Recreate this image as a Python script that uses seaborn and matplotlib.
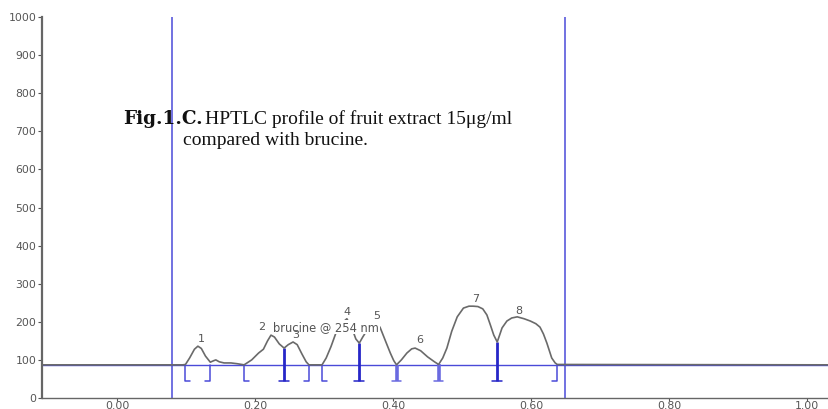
import matplotlib
matplotlib.use("Agg")
import matplotlib.pyplot as plt
import seaborn as sns
import pandas as pd

# Densitogram trace: Rf position vs. detector response (AU)
rf = [-0.11, 0.080, 0.095, 0.099, 0.105, 0.112, 0.117, 0.122, 0.128, 0.135,
      0.140, 0.143, 0.148, 0.155, 0.165, 0.174, 0.184, 0.195, 0.205, 0.212,
      0.218, 0.223, 0.228, 0.235, 0.242, 0.248, 0.255, 0.261, 0.268, 0.274,
      0.278, 0.297, 0.303, 0.310, 0.317, 0.325, 0.333, 0.340, 0.346, 0.351,
      0.356, 0.363, 0.370, 0.377, 0.381, 0.390, 0.396, 0.401, 0.405, 0.412,
      0.420, 0.427, 0.432, 0.440, 0.450, 0.460, 0.466, 0.472, 0.478, 0.485,
      0.493, 0.502, 0.510, 0.516, 0.523, 0.530, 0.536, 0.541, 0.546, 0.551,
      0.555, 0.558, 0.565, 0.572, 0.580, 0.590, 0.599, 0.607, 0.613, 0.618,
      0.623, 0.630, 0.635, 0.638, 1.04]
au = [87, 87, 87, 88, 105, 128, 136, 130, 110, 94,
      98, 100, 95, 92, 92, 90, 87, 100, 118, 128,
      150, 165, 160, 142, 131, 140, 147, 140, 115, 95,
      87, 87, 105, 135, 170, 195, 208, 185, 155, 144,
      160, 180, 190, 192, 186, 145, 118, 98, 87, 100,
      118, 129, 131, 124, 108, 95, 88, 105, 131, 175,
      213, 236, 241, 241, 240, 234, 218, 192, 165, 147,
      168, 184, 202, 210, 213, 208, 202, 195, 186, 168,
      144, 105, 92, 88, 87]

baseline = 87
track_start, track_end = 0.080, 0.649

# Integration limits
peak_starts = [0.099, 0.184, 0.297]
peak_ends = [0.135, 0.278, 0.638]
shared_limits = [0.242, 0.351, 0.405, 0.466, 0.551]
shared_tops = [131, 144, 87, 88, 147]
marker_bottom = 45

# Peak numbering
peak_ids = ["1", "3", "4", "5", "6", "7", "8"]
peak_label_x = [0.122, 0.259, 0.333, 0.376, 0.438, 0.519, 0.583]
peak_label_y = [155, 165, 226, 214, 152, 260, 228]

x_ticks = [0.0, 0.2, 0.4, 0.6, 0.8, 1.0]
x_ticklabels = ["0.00", "0.20", "0.40", "0.60", "0.80", "1.00"]
y_ticks = list(range(0, 1001, 100))

sns.set_style("ticks")
plt.rcParams["font.family"] = ["DejaVu Sans"]

W, H = 829, 409
fig = plt.figure(figsize=(W / 100, H / 100), dpi=100)
ax = fig.add_axes([42 / W, 11 / H, (W - 42) / W, 381 / H])

blue = "#4a4ad8"
dark_blue = "#2626c8"
trace_col = "#6a6a6a"

# Baseline and track boundaries
ax.axhline(baseline, color=blue, lw=1.0, zorder=1)
ax.axvline(track_start, color=blue, lw=1.1, zorder=1)
ax.axvline(track_end, color=blue, lw=1.1, zorder=1)

df = pd.DataFrame({"Rf": rf, "AU": au})
sns.lineplot(data=df, x="Rf", y="AU", ax=ax, color=trace_col, lw=1.2,
             sort=False, estimator=None, zorder=3)

foot = 0.007
for x in peak_starts:
    ax.plot([x, x, x + foot], [baseline, marker_bottom, marker_bottom],
            color=blue, lw=1.1, zorder=2)
for x in peak_ends:
    ax.plot([x, x, x - foot], [baseline, marker_bottom, marker_bottom],
            color=blue, lw=1.1, zorder=2)
for x, top in zip(shared_limits, shared_tops):
    lw = 2.0 if top > baseline + 5 else 2.6
    col = dark_blue if top > baseline + 5 else "#6a6ae0"
    ax.plot([x, x], [top, marker_bottom], color=col, lw=lw, zorder=2,
            solid_capstyle="butt")
    ax.plot([x - foot, x + foot], [marker_bottom, marker_bottom],
            color=col, lw=1.1, zorder=2)

for t, x, y in zip(peak_ids, peak_label_x, peak_label_y):
    ax.text(x, y, t, ha="center", va="center", fontsize=8, color="#555555",
            zorder=5)
ax.text(0.210, 186, "2", ha="center", va="center", fontsize=8,
        color="#555555", zorder=5)
ax.text(0.226, 186, "brucine @ 254 nm", ha="left", va="center", fontsize=8.3,
        color="#555555", zorder=4,
        bbox=dict(facecolor="white", edgecolor="none", pad=0.6))

ax.set_xlim(-0.109, 1.032)
ax.set_ylim(0, 1000)
ax.set_xticks(x_ticks)
ax.set_xticklabels(x_ticklabels)
ax.set_yticks(y_ticks)
ax.set_xlabel("")
ax.set_ylabel("")
ax.tick_params(axis="both", labelsize=7.8, colors="#555555", length=3,
               width=0.8, pad=1)
ax.tick_params(axis="x", length=2, pad=0.5)
for s in ["top", "right"]:
    ax.spines[s].set_visible(False)
ax.spines["left"].set_color("#666666")
ax.spines["left"].set_linewidth(1.6)
ax.spines["bottom"].set_color("#666666")
ax.spines["bottom"].set_linewidth(1.0)

# Figure caption
fig.text(123 / W, 1 - 124 / H, "Fig.1.C.", fontsize=13.3, fontweight="bold",
         family=["DejaVu Serif"], ha="left", va="baseline", color="#111111")
fig.text(205 / W, 1 - 124 / H, "HPTLC profile of fruit extract 15\u03bcg/ml",
         fontsize=14, family=["Liberation Serif", "DejaVu Serif"],
         ha="left", va="baseline", color="#111111")
fig.text(183 / W, 1 - 145 / H, "compared with brucine.",
         fontsize=14, family=["Liberation Serif", "DejaVu Serif"],
         ha="left", va="baseline", color="#111111")

fig.savefig("out.png", dpi=100)
